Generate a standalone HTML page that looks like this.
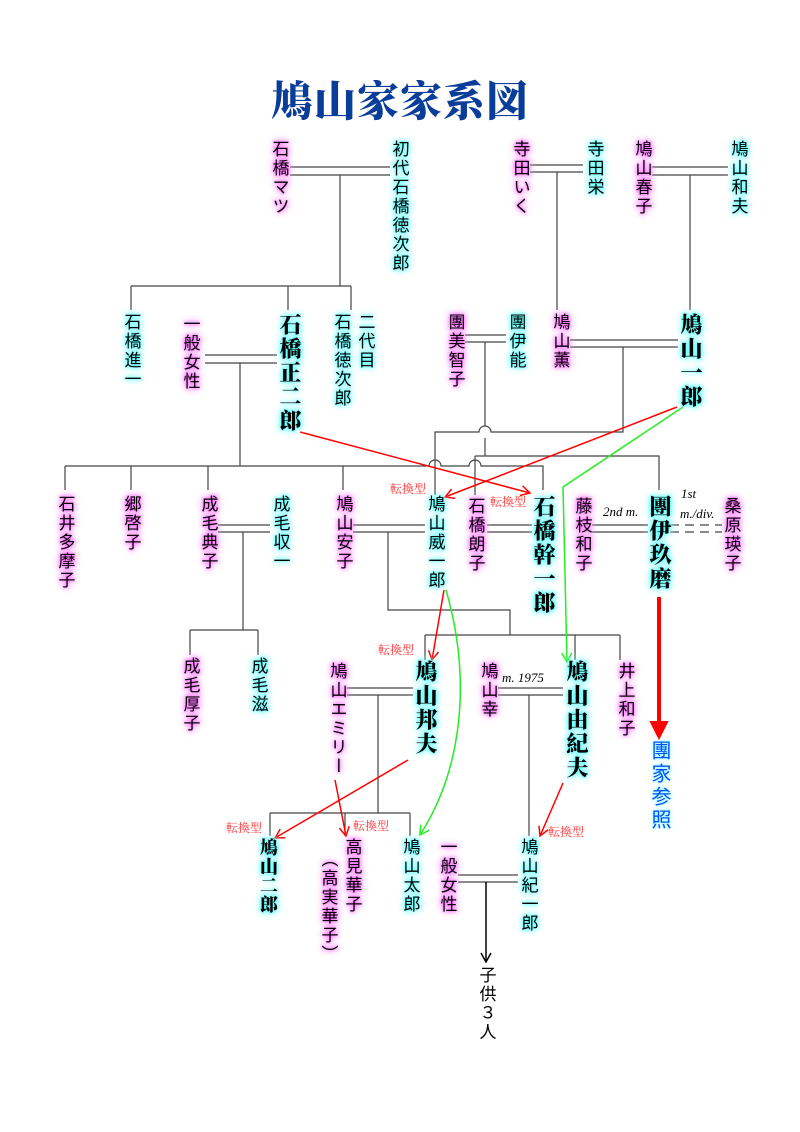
<!DOCTYPE html>
<html><head><meta charset="utf-8">
<style>
html,body{margin:0;padding:0;background:#fff}
#c{position:relative;width:800px;height:1132px;overflow:hidden}
svg{position:absolute;left:0;top:0}
.v{position:absolute;writing-mode:vertical-rl;transform:translateX(-50%);font-family:"Liberation Sans","Noto Sans CJK JP",sans-serif;font-size:17px;line-height:1;letter-spacing:2px;color:#000;white-space:nowrap}
.b{font-family:"Liberation Serif","Noto Serif CJK SC",serif;font-weight:900;font-size:22px;letter-spacing:2px}
.m{text-shadow:0 0 3px #f6f,0 0 5px #f6f,0 0 8px #f8f,0 0 10px #fbf}
.cy{text-shadow:0 0 3px #5ff,0 0 5px #5ff,0 0 8px #8ff,0 0 10px #bff}
.t{position:absolute;font-family:"Liberation Serif","Noto Serif CJK SC",serif;font-size:12px;color:#f33;white-space:nowrap}
.i{position:absolute;font-family:"Liberation Serif",serif;font-style:italic;font-size:13px;white-space:nowrap}
</style></head><body><div id="c">
<div style="position:absolute;left:268px;top:76px;width:264px;text-align:center;font-family:'Noto Serif CJK SC',serif;font-weight:900;font-size:42px;color:#0a3d99;letter-spacing:1px;line-height:1.1">鳩山家家系図</div>

<svg width="800" height="1132">
<defs>
<marker id="ar" markerWidth="12" markerHeight="12" refX="10" refY="6" orient="auto" markerUnits="userSpaceOnUse"><path d="M1,1 L10,6 L1,11" fill="none" stroke="red" stroke-width="1.5"/></marker>
<marker id="ag" markerWidth="12" markerHeight="12" refX="10" refY="6" orient="auto" markerUnits="userSpaceOnUse"><path d="M1,1 L10,6 L1,11" fill="none" stroke="#2e2" stroke-width="1.5"/></marker>
<marker id="ak" markerWidth="12" markerHeight="12" refX="10" refY="6" orient="auto" markerUnits="userSpaceOnUse"><path d="M1,1 L10,6 L1,11" fill="none" stroke="#000" stroke-width="1.5"/></marker>
</defs>
<g stroke="#444" stroke-width="1.2" fill="none">
<path d="M290,167H390M290,175H390M340,175V286M131,286H351M131,286V310M288,286V310M351,286V310"/>
<path d="M530,165H583M530,172H583M557,172V310"/>
<path d="M652,167H728M652,175H728M690,175V310"/>
<path d="M205,355H277M205,363H277M240,363V466"/>
<path d="M465,335H506M465,342H506M485,342V426M485,438V456M475,456H659V490"/>
<path d="M570,340H678M570,347H678M623,347V432H491A6,6 0 0 0 479,432H435V495"/>
<path d="M65,466H429A6,6 0 0 1 441,466H469A6,6 0 0 1 481,466H543V490M65,466V490M131,466V490M208,466V490M343,466V490M475,456V495"/>
<path d="M218,525H270M218,532H270M243,532V630M190,630H258M190,630V655M258,630V655"/>
<path d="M353,525H425M353,532H425M388,532V610H510V635M425,635H620M425,635V660M575,635V660M620,635V660"/>
<path d="M487,525H532M487,532H532"/>
<path d="M592,525H648M592,532H648"/>
<path d="M670,525H722M670,532H722" stroke-dasharray="9,6"/>
<path d="M347,688H413M347,695H413M378,695V813M270,813H410M270,813V836M345,813V836M410,813V836"/>
<path d="M498,688H563M498,695H563M529,695V836"/>
<path d="M458,875H518M458,882H518"/>
</g>
<path d="M486,882V962" stroke="#000" stroke-width="1.5" marker-end="url(#ak)"/>
<g stroke="red" stroke-width="1.5" fill="none" marker-end="url(#ar)">
<path d="M300,432L530,493"/>
<path d="M677,407L445,497"/>
<path d="M444,590L432,660"/>
<path d="M408,760L275,838"/>
<path d="M335,780L346,836"/>
<path d="M563,783L540,836"/>
</g>
<g stroke="#2e2" stroke-width="1.5" fill="none" marker-end="url(#ag)">
<path d="M683,407L563,487L567,662"/>
<path d="M446,590C472,680 462,770 420,835"/>
</g>
<path d="M659,597V728" stroke="red" stroke-width="4"/>
<path d="M651,722L659,738L667,722Z" fill="red" stroke="red" stroke-width="2"/>
</svg>

<div class="v m" style="left:279px;top:140px">石橋マツ</div>
<div class="v cy" style="left:399px;top:140px">初代石橋徳次郎</div>
<div class="v m" style="left:520px;top:140px">寺田いく</div>
<div class="v cy" style="left:594px;top:140px">寺田栄</div>
<div class="v m" style="left:642px;top:140px">鳩山春子</div>
<div class="v cy" style="left:738px;top:140px">鳩山和夫</div>

<div class="v cy" style="left:131px;top:313px">石橋進一</div>
<div class="v m" style="left:190px;top:315px">一般女性</div>
<div class="v b cy" style="left:289px;top:313px">石橋正二郎</div>
<div class="v cy" style="left:341px;top:313px">石橋徳次郎</div>
<div class="v cy" style="left:365px;top:313px">二代目</div>
<div class="v m" style="left:455px;top:313px">團美智子</div>
<div class="v cy" style="left:516px;top:313px">團伊能</div>
<div class="v m" style="left:560px;top:313px">鳩山薫</div>
<div class="v b cy" style="left:690px;top:313px">鳩山一郎</div>

<div class="v m" style="left:65px;top:495px">石井多摩子</div>
<div class="v m" style="left:131px;top:495px">郷啓子</div>
<div class="v m" style="left:208px;top:495px">成毛典子</div>
<div class="v cy" style="left:280px;top:495px">成毛収一</div>
<div class="v m" style="left:343px;top:495px">鳩山安子</div>
<div class="v cy" style="left:435px;top:495px">鳩山威一郎</div>
<div class="v m" style="left:475px;top:497px">石橋朗子</div>
<div class="v b cy" style="left:543px;top:495px">石橋幹一郎</div>
<div class="v m" style="left:582px;top:497px">藤枝和子</div>
<div class="v b cy" style="left:659px;top:495px">團伊玖磨</div>
<div class="v m" style="left:731px;top:497px">桑原瑛子</div>
<div class="i" style="left:603px;top:504px">2nd m.</div>
<div class="i" style="left:681px;top:486px">1st</div>
<div class="i" style="left:680px;top:506px">m./div.</div>

<div class="v m" style="left:190px;top:657px">成毛厚子</div>
<div class="v cy" style="left:258px;top:657px">成毛滋</div>
<div class="v m" style="left:337px;top:662px">鳩山エミリー</div>
<div class="v b cy" style="left:425px;top:660px">鳩山邦夫</div>
<div class="v m" style="left:488px;top:662px">鳩山幸</div>
<div class="i" style="left:502px;top:670px">m. 1975</div>
<div class="v b cy" style="left:576px;top:660px">鳩山由紀夫</div>
<div class="v m" style="left:625px;top:662px">井上和子</div>
<div class="v" style="left:659px;top:740px;font-size:20px;letter-spacing:3px;color:#0050ff;text-shadow:0 0 3px #8ff,0 0 6px #bff">團家参照</div>

<div class="v b cy" style="left:268px;top:838px;font-size:18px;letter-spacing:1px">鳩山二郎</div>
<div class="v m" style="left:352px;top:838px">高見華子</div>
<div class="v m" style="left:328px;top:850px">（高実華子）</div>
<div class="v cy" style="left:410px;top:838px">鳩山太郎</div>
<div class="v m" style="left:447px;top:838px">一般女性</div>
<div class="v cy" style="left:528px;top:838px">鳩山紀一郎</div>
<div class="v" style="left:486px;top:966px">子供３人</div>

<div class="t" style="left:390px;top:480px">転換型</div>
<div class="t" style="left:490px;top:493px">転換型</div>
<div class="t" style="left:378px;top:641px">転換型</div>
<div class="t" style="left:226px;top:819px">転換型</div>
<div class="t" style="left:353px;top:817px">転換型</div>
<div class="t" style="left:548px;top:823px">転換型</div>
</div></body></html>
